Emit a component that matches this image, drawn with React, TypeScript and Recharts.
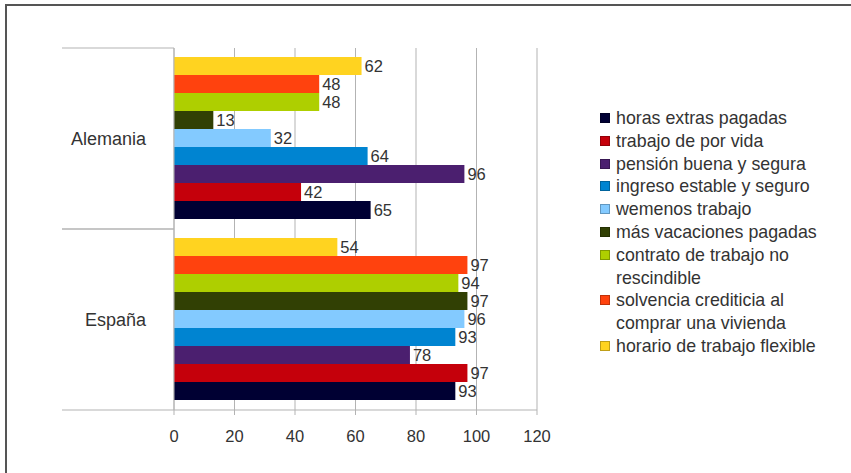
import { BarChart, Bar, XAxis, YAxis, CartesianGrid, Legend, LabelList } from 'recharts';

const countries = ['Alemania', 'España'];

// legend order (bottom bar of each group first)
const seriesNames = [
    'horas extras pagadas',
    'trabajo de por vida',
    'pensión buena y segura',
    'ingreso estable y seguro',
    'wemenos trabajo',
    'más vacaciones pagadas',
    'contrato de trabajo no rescindible',
    'solvencia crediticia al comprar una vivienda',
    'horario de trabajo flexible',
];

const alemaniaValues = [65, 42, 96, 64, 32, 13, 48, 48, 62];
const espanaValues = [93, 97, 78, 93, 96, 97, 94, 97, 54];

const xTicks = [0, 20, 40, 60, 80, 100, 120];

const COLORS = [
    '#000033',
    '#c5000b',
    '#4b1f6f',
    '#0084d1',
    '#83caff',
    '#314004',
    '#aecf00',
    '#ff420e',
    '#ffd320',
];

const WIDTH = 851;
const HEIGHT = 473;
const MARGIN = { top: 48, right: 314, bottom: 33, left: 0 };
const XAXIS_H = 30;
const GRID = '#b3b3b3';
const FONT = '"Liberation Sans", Arial, sans-serif';

const data = countries.map((country, i) => {
    const row: Record<string, any> = { country };
    const vals = i === 0 ? alemaniaValues : espanaValues;
    seriesNames.forEach((name, j) => {
        row['s' + j] = vals[j];
    });
    return row;
});

const halfBand = (HEIGHT - MARGIN.top - MARGIN.bottom - XAXIS_H) / countries.length / 2;

// category label plus the long separator lines at the band edges
const CountryTick = (props: any) => {
    const { x, y, payload } = props;
    const axisX = x + 28;
    return (
        <g>
            <line x1={axisX - 112} x2={axisX} y1={y - halfBand} y2={y - halfBand} stroke={GRID} />
            <line x1={axisX - 112} x2={axisX} y1={y + halfBand} y2={y + halfBand} stroke={GRID} />
            <text x={x} y={y} dy={6} textAnchor="end" fill="#333" fontSize={18} fontFamily={FONT}>
                {payload.value}
            </text>
        </g>
    );
};

const LegendBox = () => (
    <div style={{ fontFamily: FONT, fontSize: 17.8, color: '#333', lineHeight: '22.8px' }}>
        {seriesNames.map((name, i) => (
            <div key={name} style={{ display: 'flex', alignItems: 'flex-start' }}>
                <span
                    style={{
                        width: 10,
                        height: 10,
                        marginTop: 6,
                        marginRight: 6,
                        flex: 'none',
                        background: COLORS[i],
                        boxSizing: 'border-box',
                        border: '1px solid rgba(0,0,0,0.25)',
                    }}
                />
                <span style={{ width: 222 }}>{name}</span>
            </div>
        ))}
    </div>
);

export default function App() {
    const order = seriesNames.map((_, i) => i).reverse();
    return (
        <div style={{ position: 'absolute', left: 0, top: 0, width: WIDTH, height: HEIGHT, background: '#fff' }}>
            <div
                style={{
                    position: 'absolute',
                    left: 5,
                    top: 4,
                    right: 0,
                    bottom: 0,
                    borderTop: '2px solid #555',
                    borderLeft: '2px solid #555',
                }}
            />
            <BarChart
                width={WIDTH}
                height={HEIGHT}
                data={data}
                layout="vertical"
                margin={MARGIN}
                barCategoryGap="5%"
                barGap={0}
                style={{ position: 'absolute', left: 0, top: 0 }}
            >
                <CartesianGrid horizontal={false} vertical stroke={GRID} />
                <XAxis
                    type="number"
                    domain={[0, 120]}
                    ticks={xTicks}
                    height={XAXIS_H}
                    tickSize={5}
                    tickMargin={15}
                    axisLine={{ stroke: GRID }}
                    tickLine={{ stroke: GRID }}
                    tick={{ fill: '#333', fontSize: 16.5, fontFamily: FONT }}
                    interval={0}
                />
                <XAxis
                    xAxisId="top"
                    orientation="top"
                    type="number"
                    domain={[0, 120]}
                    height={0}
                    tick={false}
                    tickLine={false}
                    axisLine={{ stroke: GRID }}
                />
                <YAxis
                    type="category"
                    dataKey="country"
                    width={174}
                    tickSize={0}
                    tickMargin={28}
                    tickLine={false}
                    axisLine={{ stroke: GRID }}
                    tick={<CountryTick />}
                />
                <Legend
                    layout="vertical"
                    align="center"
                    verticalAlign="middle"
                    content={<LegendBox />}
                    wrapperStyle={{ left: 600, top: 107, width: 245 }}
                />
                {order.map((i) => (
                    <Bar key={i} dataKey={'s' + i} name={seriesNames[i]} fill={COLORS[i]} isAnimationActive={false}>
                        <LabelList
                            dataKey={'s' + i}
                            position="right"
                            offset={3}
                            fill="#333"
                            fontSize={16.5}
                            fontFamily={FONT}
                        />
                    </Bar>
                ))}
            </BarChart>
        </div>
    );
}
